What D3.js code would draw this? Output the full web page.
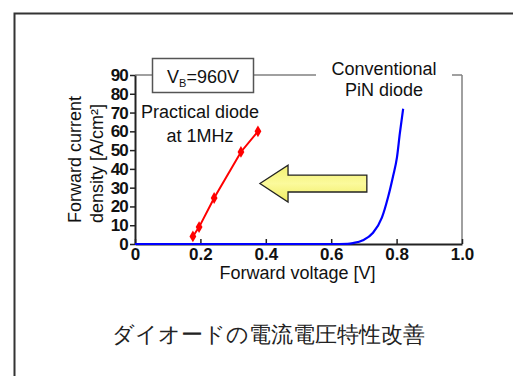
<!DOCTYPE html>
<html><head><meta charset="utf-8">
<script src="https://cdn.jsdelivr.net/npm/d3@7"></script>
<style>
html,body{margin:0;padding:0;background:#fff;}
svg{display:block;}
text{font-family:"Liberation Sans",Arial,sans-serif;}
</style></head>
<body><svg id="c" width="513" height="376"></svg>
<script>
// ---- data ----
const xTicks = [0, 0.2, 0.4, 0.6, 0.8, 1.0];
const xTickLabels = ["0", "0.2", "0.4", "0.6", "0.8", "1.0"];
const yTicks = [0, 10, 20, 30, 40, 50, 60, 70, 80, 90];
const practicalV = [0.177, 0.196, 0.242, 0.324, 0.376];
const practicalJ = [4, 9, 24.5, 49, 60];
const pinV = [0, 0.60, 0.65, 0.667, 0.697, 0.728, 0.755, 0.774, 0.789, 0.801, 0.81, 0.82];
const pinJ = [0, 0, 0.1, 0.5, 2, 6, 14, 25, 36, 46, 59, 72];
const arrowTipV = 0.382, arrowHeadV = 0.468, arrowTailV = 0.709;
const arrowJ = 32.2, arrowShaftHalf = 4.5, arrowHeadHalf = 9.8;
const xLabel = "Forward voltage [V]";
const yLabel1 = "Forward current", yLabel2 = "density [A/cm²]";
const caption = "ダイオードの電流電圧特性改善";

const svg = d3.select("#c");
// outer frame (continues beyond the window)
svg.append("rect").attr("x", 14.5).attr("y", 13.5).attr("width", 700).attr("height", 600)
  .attr("fill", "none").attr("stroke", "#333").attr("stroke-width", 2);

const x = d3.scaleLinear().domain([0, 1]).range([135, 462]);
const y = d3.scaleLinear().domain([0, 90]).range([244, 75]);

// plot frame top & right
svg.append("line").attr("x1", x(0)).attr("x2", x(1)).attr("y1", y(90)).attr("y2", y(90))
  .attr("stroke", "#808080").attr("stroke-width", 1.5);
svg.append("line").attr("x1", x(1)).attr("x2", x(1)).attr("y1", y(90)).attr("y2", y(0))
  .attr("stroke", "#808080").attr("stroke-width", 1.5);

// axes
const xAxis = d3.axisBottom(x).tickValues(xTicks).tickFormat((d, i) => xTickLabels[i])
  .tickSizeInner(-5).tickSizeOuter(0).tickPadding(7);
const gx = svg.append("g").attr("transform", `translate(0,${y(0)})`).call(xAxis);
gx.select(".domain").attr("stroke", "#222").attr("stroke-width", 2);
gx.selectAll(".tick line").attr("stroke", "#222").attr("stroke-width", 1.5);
gx.selectAll(".tick text").attr("font-size", 17).attr("font-weight", "bold")
  .attr("font-family", "Liberation Sans, Arial, sans-serif").attr("fill", "#111")
  .attr("dy", "0.55em");

const yAxis = d3.axisLeft(y).tickValues(yTicks).tickSizeInner(5).tickSizeOuter(0).tickPadding(2);
const gy = svg.append("g").attr("transform", `translate(${x(0)},0)`).call(yAxis);
gy.select(".domain").attr("stroke", "#222").attr("stroke-width", 2);
gy.selectAll(".tick line").attr("stroke", "#222").attr("stroke-width", 1.5);
gy.selectAll(".tick text").attr("font-size", 17).attr("font-weight", "bold")
  .attr("font-family", "Liberation Sans, Arial, sans-serif").attr("fill", "#111")
  .attr("letter-spacing", -0.8);

// axis titles
svg.append("text").attr("x", (x(0) + x(1)) / 2 - 1).attr("y", 279).attr("text-anchor", "middle")
  .attr("font-size", 18).attr("fill", "#111").text(xLabel);
svg.append("text").attr("transform", "translate(81,223) rotate(-90)")
  .attr("font-size", 18).attr("fill", "#111").text(yLabel1);
svg.append("text").attr("transform", "translate(103,223) rotate(-90)")
  .attr("font-size", 18).attr("fill", "#111").text(yLabel2);

// blue PiN curve
const pinData = pinV.map((v, i) => [v, pinJ[i]]);
svg.append("path").datum(pinData)
  .attr("d", d3.line().x(d => x(d[0])).y(d => y(d[1])).curve(d3.curveMonotoneX))
  .attr("fill", "none").attr("stroke", "#0000ff").attr("stroke-width", 2.2);

// red practical diode
const prData = practicalV.map((v, i) => [v, practicalJ[i]]);
svg.append("path").datum(prData)
  .attr("d", d3.line().x(d => x(d[0])).y(d => y(d[1])))
  .attr("fill", "none").attr("stroke", "#ff0000").attr("stroke-width", 2);
svg.selectAll(".mk").data(prData).enter().append("path")
  .attr("transform", d => `translate(${x(d[0])},${y(d[1])})`)
  .attr("d", d3.symbol(d3.symbolDiamond, 40)).attr("fill", "#ff0000");

// arrow
const defs = svg.append("defs");
const grad = defs.append("linearGradient").attr("id", "ag").attr("x1", 0).attr("y1", 0).attr("x2", 0).attr("y2", 1);
grad.append("stop").attr("offset", "0%").attr("stop-color", "#f3f070");
grad.append("stop").attr("offset", "50%").attr("stop-color", "#fbfa9c");
grad.append("stop").attr("offset", "100%").attr("stop-color", "#f0ec60");
const arrowPts = [
  [arrowTipV, arrowJ],
  [arrowHeadV, arrowJ + arrowHeadHalf],
  [arrowHeadV, arrowJ + arrowShaftHalf],
  [arrowTailV, arrowJ + arrowShaftHalf],
  [arrowTailV, arrowJ - arrowShaftHalf],
  [arrowHeadV, arrowJ - arrowShaftHalf],
  [arrowHeadV, arrowJ - arrowHeadHalf]
];
svg.append("path").attr("d", d3.line().x(d => x(d[0])).y(d => y(d[1]))(arrowPts) + "Z")
  .attr("fill", "url(#ag)").attr("stroke", "#222").attr("stroke-width", 1.3);

// VB box
svg.append("rect").attr("x", 152.5).attr("y", 58.5).attr("width", 101).attr("height", 34)
  .attr("fill", "#fff").attr("stroke", "#555").attr("stroke-width", 1.5);
const vb = svg.append("text").attr("x", 203).attr("y", 83).attr("text-anchor", "middle")
  .attr("font-size", 18).attr("fill", "#111");
vb.append("tspan").text("V");
vb.append("tspan").attr("font-size", 11).attr("dy", 4).text("B");
vb.append("tspan").attr("dy", -4).text("=960V");

// Conventional label
svg.append("rect").attr("x", 316).attr("y", 58).attr("width", 136).attr("height", 42).attr("fill", "#fff");
svg.append("text").attr("x", 384).attr("y", 75).attr("text-anchor", "middle")
  .attr("font-size", 18).attr("fill", "#111").text("Conventional");
svg.append("text").attr("x", 384).attr("y", 96).attr("text-anchor", "middle")
  .attr("font-size", 18).attr("fill", "#111").text("PiN diode");

// Practical label
svg.append("text").attr("x", 200).attr("y", 118).attr("text-anchor", "middle")
  .attr("font-size", 18).attr("fill", "#111").text("Practical diode");
svg.append("text").attr("x", 200).attr("y", 142).attr("text-anchor", "middle")
  .attr("font-size", 18).attr("fill", "#111").text("at 1MHz");

// caption
svg.append("text").attr("x", 268).attr("y", 342).attr("text-anchor", "middle")
  .attr("font-family", "Noto Sans CJK JP").attr("font-weight", 300)
  .attr("font-size", 22).attr("fill", "#222").text(caption);
</script></body></html>
